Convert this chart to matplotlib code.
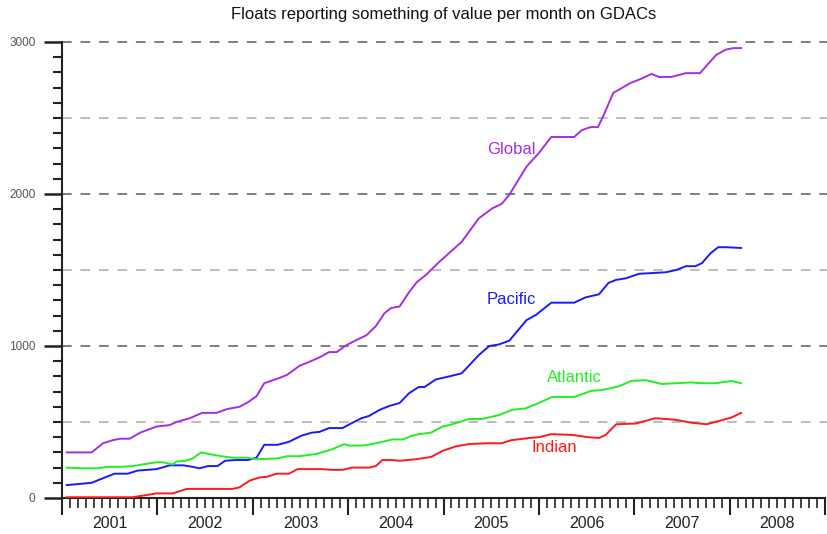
import numpy as np
import matplotlib
matplotlib.use("Agg")
import matplotlib.pyplot as plt
from matplotlib.ticker import MultipleLocator

plt.rcParams["font.family"] = ["Liberation Sans", "DejaVu Sans"]

# --- data (decimal year, floats per month) ---
global_x = [2001.05, 2001.31, 2001.43, 2001.53, 2001.61, 2001.71, 2001.82, 2001.99,
            2002.13, 2002.20, 2002.34, 2002.47, 2002.62, 2002.73, 2002.86, 2002.95,
            2003.04, 2003.12, 2003.28, 2003.36, 2003.49, 2003.59, 2003.70, 2003.80,
            2003.88, 2003.98, 2004.09, 2004.19, 2004.29, 2004.38, 2004.45, 2004.54,
            2004.64, 2004.72, 2004.82, 2004.95, 2005.19, 2005.37, 2005.51, 2005.61,
            2005.69, 2005.87, 2006.00, 2006.13, 2006.37, 2006.45, 2006.54, 2006.62,
            2006.68, 2006.78, 2006.96, 2007.08, 2007.18, 2007.26, 2007.39, 2007.54,
            2007.69, 2007.78, 2007.86, 2007.96, 2008.04, 2008.12]
global_y = [300, 300, 360, 380, 390, 390, 430, 470,
            480, 500, 525, 560, 560, 585, 600, 630,
            670, 755, 790, 810, 870, 895, 925, 960,
            960, 1005, 1040, 1070, 1130, 1215, 1250, 1260,
            1355, 1420, 1470, 1550, 1685, 1840, 1905, 1935,
            1995, 2180, 2270, 2375, 2375, 2420, 2440, 2440,
            2520, 2665, 2730, 2760, 2790, 2770, 2770, 2795,
            2795, 2860, 2915, 2950, 2960, 2960]

pacific_x = [2001.05, 2001.31, 2001.43, 2001.55, 2001.69, 2001.79, 2001.99, 2002.13,
             2002.27, 2002.37, 2002.44, 2002.53, 2002.63, 2002.71, 2002.83, 2002.95,
             2003.04, 2003.12, 2003.26, 2003.38, 2003.51, 2003.62, 2003.70, 2003.80,
             2003.94, 2004.03, 2004.14, 2004.22, 2004.33, 2004.43, 2004.54, 2004.64,
             2004.74, 2004.80, 2004.92, 2005.06, 2005.19, 2005.37, 2005.48, 2005.58,
             2005.69, 2005.87, 2005.97, 2006.13, 2006.37, 2006.49, 2006.63, 2006.73,
             2006.81, 2006.91, 2007.05, 2007.33, 2007.44, 2007.54, 2007.64, 2007.71,
             2007.80, 2007.88, 2007.96, 2008.12]
pacific_y = [85, 100, 130, 160, 160, 180, 190, 215,
             215, 205, 195, 210, 210, 245, 250, 250,
             265, 350, 350, 370, 410, 430, 435, 460,
             460, 490, 525, 540, 580, 605, 625, 690,
             730, 730, 780, 800, 820, 940, 1000, 1010,
             1035, 1170, 1205, 1285, 1285, 1320, 1340, 1415,
             1435, 1445, 1475, 1485, 1500, 1525, 1525, 1545,
             1610, 1650, 1650, 1645]

atlantic_x = [2001.05, 2001.22, 2001.37, 2001.47, 2001.61, 2001.74, 2001.89, 2001.99,
              2002.06, 2002.16, 2002.20, 2002.29, 2002.37, 2002.46, 2002.58, 2002.67,
              2002.79, 2002.94, 2003.04, 2003.26, 2003.36, 2003.49, 2003.67, 2003.72,
              2003.83, 2003.96, 2004.01, 2004.15, 2004.25, 2004.36, 2004.46, 2004.57,
              2004.67, 2004.74, 2004.87, 2004.99, 2005.09, 2005.27, 2005.40, 2005.58,
              2005.72, 2005.86, 2006.00, 2006.14, 2006.37, 2006.55, 2006.66, 2006.84,
              2006.97, 2007.12, 2007.29, 2007.43, 2007.60, 2007.71, 2007.85, 2008.02,
              2008.12]
atlantic_y = [200, 195, 195, 205, 205, 210, 225, 235,
              235, 220, 240, 245, 260, 300, 285, 275,
              265, 265, 255, 260, 275, 275, 290, 300,
              320, 355, 345, 345, 355, 370, 385, 385,
              410, 420, 430, 470, 485, 520, 520, 545,
              580, 590, 625, 665, 665, 705, 710, 735,
              770, 775, 750, 755, 760, 755, 755, 770,
              755]

indian_x = [2001.05, 2001.74, 2001.89, 2001.99, 2002.16, 2002.31, 2002.79, 2002.86,
            2002.97, 2003.07, 2003.15, 2003.25, 2003.38, 2003.47, 2003.59, 2003.73,
            2003.83, 2003.94, 2004.04, 2004.22, 2004.29, 2004.36, 2004.45, 2004.54,
            2004.71, 2004.87, 2004.99, 2005.13, 2005.27, 2005.45, 2005.61, 2005.71,
            2005.90, 2006.00, 2006.13, 2006.35, 2006.52, 2006.63, 2006.70, 2006.81,
            2007.02, 2007.22, 2007.43, 2007.60, 2007.76, 2007.88, 2008.02, 2008.12]
indian_y = [5, 5, 20, 30, 30, 60, 60, 70,
            115, 135, 140, 160, 160, 190, 190, 190,
            185, 185, 200, 200, 210, 250, 250, 245,
            255, 270, 310, 340, 355, 360, 360, 380,
            395, 400, 420, 415, 400, 395, 415, 485,
            490, 525, 515, 495, 485, 505, 530, 560]

years = [2001, 2002, 2003, 2004, 2005, 2006, 2007, 2008]

series = [
    ("Global", global_x, global_y, "#a52ee0", (2005.71, 2296)),
    ("Pacific", pacific_x, pacific_y, "#1a1aff", (2005.71, 1303)),
    ("Atlantic", atlantic_x, atlantic_y, "#22ee22", (2006.37, 790)),
    ("Indian", indian_x, indian_y, "#ff1a1a", (2006.16, 329)),
]

fig = plt.figure(figsize=(8.28, 5.34), dpi=100)
ax = fig.add_axes([62 / 828, 36 / 534, 763 / 828, 456 / 534])

# dashed horizontal guides, darker on the thousands
for v in range(500, 3001, 500):
    col = "#7f7f7f" if v % 1000 == 0 else "#bdbdbd"
    ax.plot([2001, 2009.05], [v, v], color=col, lw=1.4, ls=(0, (5, 4.5)),
            clip_on=False, zorder=1)

for name, xs, ys, col, (lx, ly) in series:
    ax.plot(xs, ys, color=col, lw=1.4, zorder=3)
    ax.text(lx, ly, name, color=col, fontsize=12, ha="center", va="center")

ax.set_xlim(2001, 2009)
ax.set_ylim(0, 3000)

for side in ("top", "right"):
    ax.spines[side].set_visible(False)
for side in ("left", "bottom"):
    ax.spines[side].set_linewidth(1.5)
    ax.spines[side].set_color("#222222")

ax.yaxis.set_major_locator(MultipleLocator(1000))
ax.yaxis.set_minor_locator(MultipleLocator(100))
ax.tick_params(axis="y", which="major", length=13, width=1.8, color="#222222",
               labelsize=8.5, labelcolor="#555555", pad=6)
ax.tick_params(axis="y", which="minor", length=6.5, width=1.5, color="#222222")

ax.set_xticks(years + [2009])
ax.set_xticklabels([])
ax.xaxis.set_minor_locator(MultipleLocator(1 / 12))
ax.tick_params(axis="x", which="major", length=12, width=1.5, color="#222222")
ax.tick_params(axis="x", which="minor", length=7, width=1.2, color="#222222")

trans = ax.get_xaxis_transform()
for yr in years:
    ax.text(yr + 0.5, -0.055, str(yr), transform=trans, ha="center", va="center",
            fontsize=11.5, color="#222222")

fig.text((62 + 825) / 2 / 828, 1 - 14 / 534,
         "Floats reporting something of value per month on GDACs",
         ha="center", va="center", fontsize=12, color="#111111")

fig.savefig("out.png", dpi=100)
